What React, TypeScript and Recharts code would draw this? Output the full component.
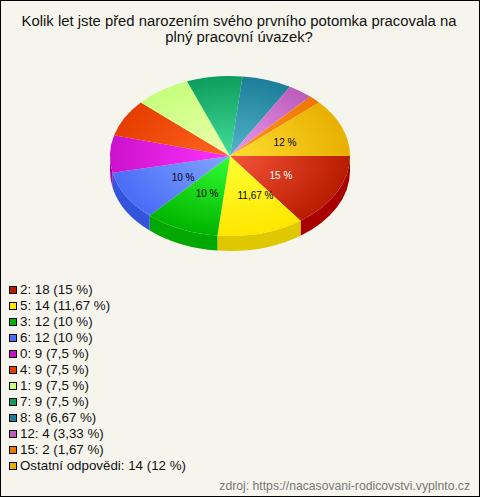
import React from "react";
import { PieChart, Pie, Legend } from "recharts";

const categories = ["2", "5", "3", "6", "0", "4", "1", "7", "8", "12", "15", "Ostatní odpovědi"];
const counts = [18, 14, 12, 12, 9, 9, 9, 9, 8, 4, 2, 14];
const percents = ["15", "11,67", "10", "10", "7,5", "7,5", "7,5", "7,5", "6,67", "3,33", "1,67", "12"];
const edgeColors = ["#b81c00", "#ffe600", "#00b400", "#4a6cf8", "#cc11cc", "#e63d00", "#c6ff7d", "#0d9d5d", "#1c7d99", "#bb5dbb", "#ee7700", "#e8b000"];
const centerColors = ["#f5553a", "#ffff33", "#33ff33", "#80a8ff", "#ff33ff", "#ff6622", "#eeffaa", "#44dd99", "#55b5cc", "#ee99ee", "#ff9922", "#ffdd33"];
const sideColors = ["#a80000", "#e0c800", "#00a800", "#3355dd", "#aa00aa", "#cc3300", "#aadd66", "#008844", "#116688", "#994499", "#cc6600", "#ccaa00"];
const labelled = [true, true, true, true, false, false, false, false, false, false, false, true];
const labelColors = ["#ffffff", "#000000", "#000000", "#000000", "#000", "#000", "#000", "#000", "#000", "#000", "#000", "#000000"];
const titleLines = ["Kolik let jste před narozením svého prvního potomka pracovala na", "plný pracovní úvazek?"];
const source = "zdroj: https://nacasovani-rodicovstvi.vyplnto.cz";

const FONT = "'Liberation Sans', Arial, sans-serif";
const SQUASH = 2 / 3;
const DEPTH = 15;
const RAD = Math.PI / 180;
// small horizontal label nudges per slice, by series index
const LABEL_NUDGE: Record<number, number> = { 0: -2.5, 1: 10, 2: 1.5, 3: 5, 11: -1 };

const data = categories.map((name, i) => ({
  name,
  value: counts[i],
  fill: edgeColors[i],
  center: centerColors[i],
  side: sideColors[i],
  pct: percents[i],
  show: labelled[i],
  labelColor: labelColors[i],
  idx: i,
}));

const pt = (cx: number, cy: number, r: number, deg: number) => ({
  x: cx + r * Math.cos(deg * RAD),
  y: cy + r * SQUASH * Math.sin(deg * RAD),
});

// Recharts angles run counter-clockwise; screen angle = -angle
function TopSector(props: any) {
  const { cx, cy, outerRadius: r, startAngle, endAngle, payload } = props;
  const p = payload?.payload ?? payload;
  const a1 = -startAngle;
  const a2 = -endAngle;
  const s = pt(cx, cy, r, a1);
  const e = pt(cx, cy, r, a2);
  const large = a2 - a1 > 180 ? 1 : 0;
  const id = `top-${p.idx}`;
  return (
    <g>
      <defs>
        <radialGradient
          id={id}
          gradientUnits="userSpaceOnUse"
          cx={0}
          cy={0}
          r={1}
          gradientTransform={`translate(${cx} ${cy}) scale(${r} ${r * SQUASH})`}
        >
          <stop offset="0%" stopColor={p.center} />
          <stop offset="100%" stopColor={p.fill} />
        </radialGradient>
      </defs>
      <path
        d={`M${cx},${cy} L${s.x},${s.y} A${r},${r * SQUASH} 0 ${large} 1 ${e.x},${e.y} Z`}
        fill={`url(#${id})`}
        stroke="none"
      />
    </g>
  );
}

function SideSector(props: any) {
  const { cx, cy, outerRadius: r, startAngle, endAngle, payload } = props;
  const p = payload?.payload ?? payload;
  const a1 = Math.max(-startAngle, 0);
  const a2 = Math.min(-endAngle, 180);
  if (a2 <= a1) return <g />;
  const s = pt(cx, cy, r, a1);
  const e = pt(cx, cy, r, a2);
  const ry = r * SQUASH;
  return (
    <path
      d={`M${s.x},${s.y} A${r},${ry} 0 0 1 ${e.x},${e.y} L${e.x},${e.y + DEPTH} A${r},${ry} 0 0 0 ${s.x},${s.y + DEPTH} Z`}
      fill={p.side}
      stroke="none"
    />
  );
}

function SliceLabel(props: any) {
  const { cx, cy, midAngle, outerRadius: r, payload } = props;
  const p = payload?.payload ?? payload;
  if (!p || !p.show) return <g />;
  const a = pt(cx, cy, r * 0.5, -midAngle);
  return (
    <text
      x={a.x + (LABEL_NUDGE[p.idx] ?? 0)}
      y={a.y + 1}
      textAnchor="middle"
      dominantBaseline="central"
      fontFamily={FONT}
      fontSize={10}
      fill={p.labelColor}
    >
      {`${p.pct} %`}
    </text>
  );
}

function LegendList() {
  return (
    <div style={{ fontFamily: FONT, fontSize: 13.33, color: "#111" }}>
      {data.map((d) => (
        <div key={d.name} style={{ height: 16, lineHeight: "16px", display: "flex", alignItems: "center", whiteSpace: "nowrap" }}>
          <span style={{ width: 6, height: 6, border: "1px solid #000", background: d.fill, display: "inline-block", marginRight: 3, boxSizing: "content-box" }} />
          <span>{`${d.name}: ${d.value} (${d.pct} %)`}</span>
        </div>
      ))}
    </div>
  );
}

export default function App() {
  return (
    <div style={{ position: "absolute", left: 0, top: 0, width: 480, height: 497, boxSizing: "border-box", border: "1px solid #000", background: "#f5f5ee", overflow: "hidden" }}>
      <div style={{ position: "absolute", left: -2, top: 12, width: 480, textAlign: "center", fontFamily: FONT, fontSize: 14.85, lineHeight: "16px", color: "#111" }}>
        {titleLines.map((t) => (
          <div key={t} style={{ whiteSpace: "nowrap" }}>{t}</div>
        ))}
      </div>
      <div style={{ position: "absolute", left: -1, top: -1 }}>
        <PieChart width={480} height={497} margin={{ top: 0, right: 0, bottom: 0, left: 0 }}>
          <Pie
            data={data}
            dataKey="value"
            nameKey="name"
            cx={230}
            cy={156}
            outerRadius={120}
            startAngle={0}
            endAngle={-360}
            stroke="none"
            legendType="none"
            isAnimationActive={false}
            shape={SideSector}
          />
          <Pie
            data={data}
            dataKey="value"
            nameKey="name"
            cx={230}
            cy={156}
            outerRadius={120}
            startAngle={0}
            endAngle={-360}
            stroke="none"
            isAnimationActive={false}
            shape={TopSector}
            label={SliceLabel}
            labelLine={false}
          />
          <Legend
            layout="horizontal"
            verticalAlign="bottom"
            content={<LegendList />}
            wrapperStyle={{ position: "absolute", left: 9, top: 282, width: 300, bottom: "auto" }}
          />
        </PieChart>
      </div>
      <div style={{ position: "absolute", right: 9, top: 477, fontFamily: FONT, fontSize: 12.2, lineHeight: "16px", color: "#777" }}>{source}</div>
    </div>
  );
}
